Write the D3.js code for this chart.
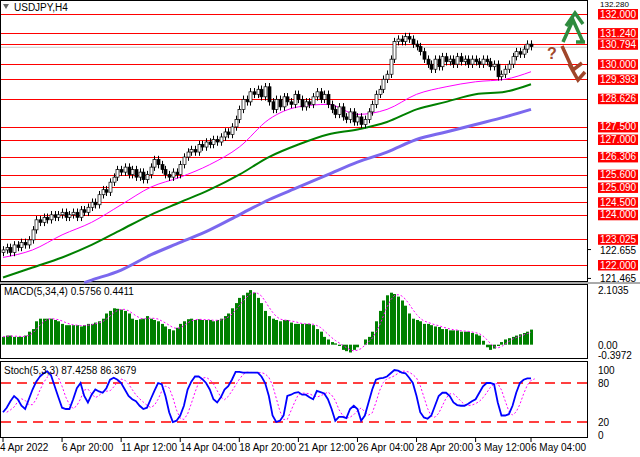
<!DOCTYPE html><html><head><meta charset="utf-8">
<script src="https://cdn.jsdelivr.net/npm/d3@7/dist/d3.min.js"></script>
<style>body{margin:0;background:#fff}svg{font-family:"Liberation Sans",Arial,sans-serif}</style></head><body>
<svg id="c" width="640" height="457"></svg>
<script>
const closes=[122.6,122.7,122.5,122.8,122.7,122.9,122.8,123.0,
123.4,123.8,123.7,123.9,123.8,124.0,123.9,124.0,
124.1,123.9,124.0,124.1,123.9,124.2,124.1,124.3,
124.5,124.4,124.8,125.0,124.9,125.3,125.5,125.8,
125.7,125.9,125.6,125.8,125.5,125.7,125.4,125.6,
125.9,126.2,126.0,125.8,125.6,125.5,125.7,125.6,
126.0,126.3,126.5,126.6,126.5,126.8,126.7,126.9,
126.8,127.0,126.9,127.1,127.3,127.2,127.5,127.8,
128.2,128.6,128.5,128.9,128.8,129.0,128.7,129.1,
128.5,128.2,128.6,128.3,128.7,128.5,128.4,128.8,
128.6,128.3,128.5,128.4,128.7,128.9,128.6,128.8,
128.4,128.2,128.0,128.3,127.9,127.8,128.1,127.7,
127.9,127.6,127.8,128.1,128.4,128.8,129.0,129.4,
129.6,130.2,130.9,131.0,130.9,131.1,131.0,130.8,
130.7,130.5,130.2,130.0,129.8,130.2,129.9,130.3,
130.1,130.2,130.0,130.3,130.1,130.2,130.0,130.2,
130.1,130.0,130.2,130.1,129.9,130.0,129.5,129.6,
129.8,130.0,130.3,130.5,130.4,130.6,130.8,130.7];
const maIdx=[0,8,16,24,32,40,48,56,64,72,80,88,96,104,112,120,128,136,143];
const maFast=[122.3,122.6,123.2,123.7,124.4,125.1,125.5,126.0,126.7,127.8,128.3,128.4,128.0,128.2,128.8,129.1,129.3,129.4,129.7];
const maMid=[121.5,121.9,122.3,122.8,123.4,124.0,124.5,125.0,125.6,126.3,126.8,127.2,127.4,127.7,128.2,128.5,128.8,128.9,129.2];
const maSlowIdx=[22,24,32,40,48,56,64,72,80,88,96,104,112,120,128,136,143];
const maSlow=[121.3,121.4,121.8,122.4,122.9,123.4,124.0,124.6,125.1,125.6,126.1,126.5,127.0,127.3,127.6,127.9,128.2];
const macd=[0.3,0.35,0.35,0.3,0.3,0.3,0.35,0.5,
0.6,0.9,1.0,1.0,1.0,1.0,0.95,0.9,
0.8,0.75,0.75,0.75,0.75,0.7,0.75,0.8,
0.8,0.85,0.9,1.0,1.2,1.3,1.4,1.38,
1.35,1.3,1.2,1.0,0.95,0.98,1.0,1.1,
1.0,0.95,0.9,0.8,0.7,0.6,0.55,0.65,
0.8,0.9,0.98,1.0,0.95,0.98,0.95,0.95,
0.95,0.9,0.95,1.0,1.1,1.2,1.4,1.6,
1.8,1.9,2.0,2.1,2.0,1.8,1.6,1.3,
1.1,1.0,0.95,0.9,0.95,0.95,0.85,0.8,
0.8,0.8,0.8,0.8,0.75,0.6,0.5,0.3,
0.2,0.1,0.05,-0.05,-0.2,-0.25,-0.3,-0.2,
-0.1,0.0,0.2,0.3,0.5,0.9,1.3,1.7,
1.9,2.0,1.95,1.85,1.7,1.5,1.2,1.0,
0.95,0.9,0.8,0.8,0.75,0.7,0.68,0.6,
0.6,0.55,0.55,0.55,0.5,0.5,0.5,0.45,
0.4,0.35,0.15,-0.1,-0.2,-0.15,-0.05,0.1,
0.2,0.25,0.3,0.35,0.4,0.45,0.5,0.58];
const stoch=[35,42,52,60,55,45,40,55,
70,82,90,95,98,92,75,58,
42,40,40,55,72,80,60,50,
62,70,67,65,72,85,88,85,
80,70,60,55,52,45,40,42,
55,68,80,78,60,35,20,22,
30,45,70,82,90,90,86,80,
70,55,50,58,70,75,85,97,
97,96,96,96,96,96,90,80,
60,30,20,22,30,60,62,65,
66,62,62,58,55,68,66,64,
55,40,22,28,28,26,40,45,
40,22,30,50,70,85,87,88,
90,95,100,99,96,95,88,80,
60,35,27,25,30,45,60,65,
65,60,50,46,45,45,48,52,
55,65,75,80,80,78,50,30,
30,32,45,65,80,85,87,87];
const levels=[132.000,131.240,130.794,130.000,129.393,128.626,127.500,127.000,126.306,125.600,125.090,124.500,124.000,123.025,122.000];
const greyTicks=[122.655,121.465];
const dateLabels=["4 Apr 2022","6 Apr 20:00","11 Apr 12:00","14 Apr 04:00","18 Apr 20:00","21 Apr 12:00","26 Apr 04:00","28 Apr 20:00","3 May 12:00","6 May 04:00"];
const dateIdx=[0,16,32,48,64,80,96,112,128,143];

const svg=d3.select("#c"),W=587,FS=10;
const x=d3.scaleLinear().domain([0,143]).range([3,531]);
const y=d3.scaleLinear().domain([132,122]).range([14,265]);
svg.append("rect").attr("x",0.5).attr("y",0.5).attr("width",W).attr("height",281).attr("fill","none").attr("stroke","#000");
svg.append("rect").attr("x",0).attr("y",282).attr("width",640).attr("height",2).attr("fill","#aaa");
svg.append("rect").attr("x",0.5).attr("y",284.5).attr("width",W).attr("height",74).attr("fill","none").attr("stroke","#000");
svg.append("rect").attr("x",0.5).attr("y",361.5).attr("width",W).attr("height",76).attr("fill","none").attr("stroke","#000");
const main=svg.append("g");
levels.forEach(l=>{main.append("line").attr("x1",1).attr("x2",W).attr("y1",Math.round(y(l))+0.5).attr("y2",Math.round(y(l))+0.5).attr("stroke","#f00");});
main.append("line").attr("x1",1).attr("x2",W).attr("y1",y(130.675)).attr("y2",y(130.675)).attr("stroke","#ccc");
const ln=d3.line().curve(d3.curveMonotoneX);
main.append("path").attr("d",ln(maSlowIdx.map((i,k)=>[x(i),y(maSlow[k])]))).attr("fill","none").attr("stroke","#7b68ee").attr("stroke-width",3);
main.append("path").attr("d",ln(maIdx.map((i,k)=>[x(i),y(maMid[k])]))).attr("fill","none").attr("stroke","#008000").attr("stroke-width",2);
main.append("path").attr("d",ln(maIdx.map((i,k)=>[x(i),y(maFast[k])]))).attr("fill","none").attr("stroke","#ff00ff").attr("stroke-width",1);
closes.forEach((c,i)=>{const o=i?closes[i-1]:c-0.1;const hi=Math.max(o,c)+0.15,lo=Math.min(o,c)-0.15;const cx=Math.round(x(i))+0.5;
main.append("line").attr("x1",cx).attr("x2",cx).attr("y1",y(hi)).attr("y2",y(lo)).attr("stroke","#000");
const t=y(Math.max(o,c)),b=y(Math.min(o,c));
main.append("rect").attr("x",cx-1.5).attr("y",t).attr("width",3).attr("height",Math.max(1,b-t)).attr("fill",c>=o?"#fff":"#000").attr("stroke","#000").attr("stroke-width",0.7);});
svg.append("text").attr("x",600).attr("y",7).attr("font-size",8).text("132.280");
levels.forEach(l=>{const yy=y(l);svg.append("rect").attr("x",598).attr("y",yy-5).attr("width",40).attr("height",10.5).attr("fill","#f00");
svg.append("text").attr("x",600).attr("y",yy+3.5).attr("fill","#fff").attr("font-size",FS).text(l.toFixed(3));});
greyTicks.forEach(l=>{const yy=y(l)+(l>122.5?1:0);svg.append("line").attr("x1",W).attr("x2",W+4).attr("y1",yy).attr("y2",yy).attr("stroke","#000");
svg.append("text").attr("x",600).attr("y",yy+4).attr("font-size",FS).text(l.toFixed(3));});
svg.append("text").attr("x",14).attr("y",11).attr("font-size",FS).text("USDJPY,H4");
svg.append("path").attr("d","M3,4 L9,4 L6,9 Z").attr("fill","#666");
svg.append("path").attr("d","M563,42 L573,20 L583,42 M566,26 L575,13 L583,24 M576,42 L585,42").attr("fill","none").attr("stroke","#2e8b3e").attr("stroke-width",3.5);
svg.append("path").attr("d","M562,46 L573,70 L582,63 M569,64 L578,80 L585,72").attr("fill","none").attr("stroke","#a0462a").attr("stroke-width",3.5);
svg.append("text").attr("x",547).attr("y",59).attr("font-size",16).attr("font-weight","bold").attr("fill","#a0462a").text("?");
const ym=d3.scaleLinear().domain([-0.3972,2.1035]).range([355,290]);
macd.forEach((v,i)=>{svg.append("rect").attr("x",Math.round(x(i))-1).attr("width",3).attr("y",ym(Math.max(0,v))).attr("height",Math.abs(ym(v)-ym(0))).attr("fill","#008000");});
const sig=macd.map((v,i)=>d3.mean(macd.slice(Math.max(0,i-3),i+1)));
svg.append("path").attr("d",d3.line()(sig.map((v,i)=>[x(i),ym(v)]))).attr("fill","none").attr("stroke","#ff00ff").attr("stroke-dasharray","2,2");
svg.append("text").attr("x",4).attr("y",295).attr("font-size",FS).text("MACD(5,34,4) 0.5756 0.4411");
[[2.1035,"2.1035"],[0,"0.00"],[-0.3972,"-0.3972"]].forEach(([v,t])=>svg.append("text").attr("x",598).attr("y",ym(v)+4).attr("font-size",FS).text(t));
const ys=d3.scaleLinear().domain([0,100]).range([435,370]);
[20,80].forEach(v=>svg.append("line").attr("x1",1).attr("x2",W).attr("y1",ys(v)).attr("y2",ys(v)).attr("stroke","#f00").attr("stroke-width",1.5).attr("stroke-dasharray","10,6"));
const ss=stoch.map((v,i)=>d3.mean(stoch.slice(Math.max(0,i-2),i+1)));
svg.append("path").attr("d",d3.line()(ss.map((v,i)=>[x(i+1),ys(v)]))).attr("fill","none").attr("stroke","#ff00ff").attr("stroke-dasharray","2,2");
svg.append("path").attr("d",d3.line()(stoch.map((v,i)=>[x(i),ys(v)]))).attr("fill","none").attr("stroke","#0000ff").attr("stroke-width",1.8);
svg.append("text").attr("x",4).attr("y",374).attr("font-size",FS).text("Stoch(5,3,3) 87.4258 86.3679");
[100,80,20,0].forEach(v=>svg.append("text").attr("x",598).attr("y",ys(v)+4).attr("font-size",FS).text(v));
dateLabels.forEach((t,k)=>{const xx=x(dateIdx[k]);svg.append("line").attr("x1",xx).attr("x2",xx).attr("y1",438).attr("y2",442).attr("stroke","#000");
svg.append("text").attr("x",xx+(k==0?-3:0)).attr("y",451).attr("font-size",FS).text(t);});
</script></body></html>
